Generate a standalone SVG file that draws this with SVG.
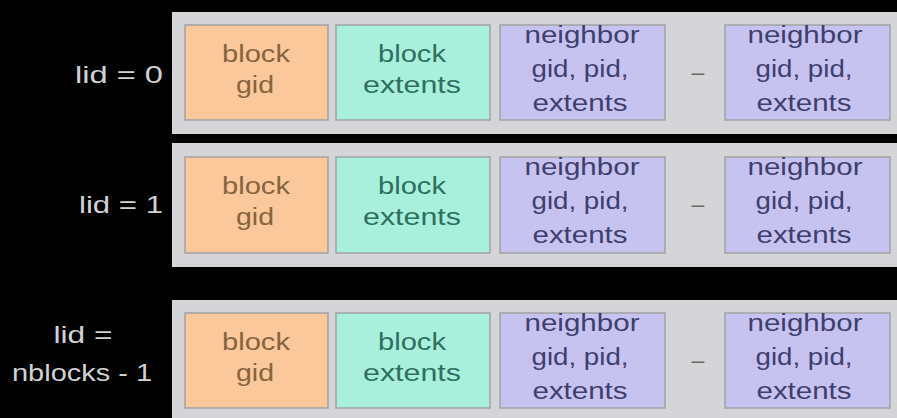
<svg xmlns="http://www.w3.org/2000/svg" width="897" height="418" viewBox="0 0 897 418">
<style>
.bar{fill:#d5d5d8;}
.box{stroke:#a2a2a4;stroke-width:1.5;}
.gid{fill:#fbc89b;}
.ext{fill:#a8f0dc;}
.nb{fill:#c7c3f1;}
text{font-family:"Liberation Sans",Arial,sans-serif;font-size:23px;text-anchor:middle;}
.tg{fill:#85653e;}
.te{fill:#2f6f60;}
.tn{fill:#3f3f6e;}
.lid{fill:#d2d2d2;font-size:24px;}
.dash{fill:#6a6a6e;}
</style>
<rect x="0" y="0" width="897" height="418" fill="#000"/>
<g id="labels">
<text class="lid" x="119" y="83" textLength="88" lengthAdjust="spacingAndGlyphs">lid = 0</text>
<text class="lid" x="121" y="213" textLength="84" lengthAdjust="spacingAndGlyphs">lid = 1</text>
<text class="lid" x="83" y="343" textLength="59" lengthAdjust="spacingAndGlyphs">lid =</text>
<text class="lid" x="82" y="381" textLength="140" lengthAdjust="spacingAndGlyphs">nblocks - 1</text>
</g>
<g id="row0">
<rect class="bar" x="172" y="12" width="725" height="122"/>
<g id="row0-gid"><rect class="box gid" x="185" y="25" width="143" height="95"/>
<text class="tg" x="256" y="62" textLength="68" lengthAdjust="spacingAndGlyphs">block</text>
<text class="tg" x="255" y="93" textLength="38" lengthAdjust="spacingAndGlyphs">gid</text></g>
<g id="row0-ext"><rect class="box ext" x="336" y="25" width="154" height="95"/>
<text class="te" x="412" y="62" textLength="68" lengthAdjust="spacingAndGlyphs">block</text>
<text class="te" x="412" y="93" textLength="98" lengthAdjust="spacingAndGlyphs">extents</text></g>
<g id="row0-nb1"><rect class="box nb" x="500" y="25" width="165" height="95"/>
<text class="tn" x="582" y="43" textLength="115" lengthAdjust="spacingAndGlyphs">neighbor</text>
<text class="tn" x="580" y="77" textLength="97" lengthAdjust="spacingAndGlyphs">gid, pid,</text>
<text class="tn" x="580" y="111" textLength="95" lengthAdjust="spacingAndGlyphs">extents</text></g>
<text class="dash" x="698" y="80">–</text>
<g id="row0-nb2"><rect class="box nb" x="725" y="25" width="165" height="95"/>
<text class="tn" x="805" y="43" textLength="115" lengthAdjust="spacingAndGlyphs">neighbor</text>
<text class="tn" x="804" y="77" textLength="97" lengthAdjust="spacingAndGlyphs">gid, pid,</text>
<text class="tn" x="804" y="111" textLength="95" lengthAdjust="spacingAndGlyphs">extents</text></g>
</g>
<g id="row1">
<rect class="bar" x="172" y="143" width="725" height="124"/>
<g id="row1-gid"><rect class="box gid" x="185" y="157" width="143" height="96"/>
<text class="tg" x="256" y="194" textLength="68" lengthAdjust="spacingAndGlyphs">block</text>
<text class="tg" x="255" y="225" textLength="38" lengthAdjust="spacingAndGlyphs">gid</text></g>
<g id="row1-ext"><rect class="box ext" x="336" y="157" width="154" height="96"/>
<text class="te" x="412" y="194" textLength="68" lengthAdjust="spacingAndGlyphs">block</text>
<text class="te" x="412" y="225" textLength="98" lengthAdjust="spacingAndGlyphs">extents</text></g>
<g id="row1-nb1"><rect class="box nb" x="500" y="157" width="165" height="96"/>
<text class="tn" x="582" y="175" textLength="115" lengthAdjust="spacingAndGlyphs">neighbor</text>
<text class="tn" x="580" y="209" textLength="97" lengthAdjust="spacingAndGlyphs">gid, pid,</text>
<text class="tn" x="580" y="243" textLength="95" lengthAdjust="spacingAndGlyphs">extents</text></g>
<text class="dash" x="698" y="212">–</text>
<g id="row1-nb2"><rect class="box nb" x="725" y="157" width="165" height="96"/>
<text class="tn" x="805" y="175" textLength="115" lengthAdjust="spacingAndGlyphs">neighbor</text>
<text class="tn" x="804" y="209" textLength="97" lengthAdjust="spacingAndGlyphs">gid, pid,</text>
<text class="tn" x="804" y="243" textLength="95" lengthAdjust="spacingAndGlyphs">extents</text></g>
</g>
<g id="row2">
<rect class="bar" x="172" y="300" width="725" height="118"/>
<g id="row2-gid"><rect class="box gid" x="185" y="313" width="143" height="95"/>
<text class="tg" x="256" y="350" textLength="68" lengthAdjust="spacingAndGlyphs">block</text>
<text class="tg" x="255" y="381" textLength="38" lengthAdjust="spacingAndGlyphs">gid</text></g>
<g id="row2-ext"><rect class="box ext" x="336" y="313" width="154" height="95"/>
<text class="te" x="412" y="350" textLength="68" lengthAdjust="spacingAndGlyphs">block</text>
<text class="te" x="412" y="381" textLength="98" lengthAdjust="spacingAndGlyphs">extents</text></g>
<g id="row2-nb1"><rect class="box nb" x="500" y="313" width="165" height="95"/>
<text class="tn" x="582" y="331" textLength="115" lengthAdjust="spacingAndGlyphs">neighbor</text>
<text class="tn" x="580" y="365" textLength="97" lengthAdjust="spacingAndGlyphs">gid, pid,</text>
<text class="tn" x="580" y="399" textLength="95" lengthAdjust="spacingAndGlyphs">extents</text></g>
<text class="dash" x="698" y="368">–</text>
<g id="row2-nb2"><rect class="box nb" x="725" y="313" width="165" height="95"/>
<text class="tn" x="805" y="331" textLength="115" lengthAdjust="spacingAndGlyphs">neighbor</text>
<text class="tn" x="804" y="365" textLength="97" lengthAdjust="spacingAndGlyphs">gid, pid,</text>
<text class="tn" x="804" y="399" textLength="95" lengthAdjust="spacingAndGlyphs">extents</text></g>
</g>
<g id="connectors"/>
</svg>
